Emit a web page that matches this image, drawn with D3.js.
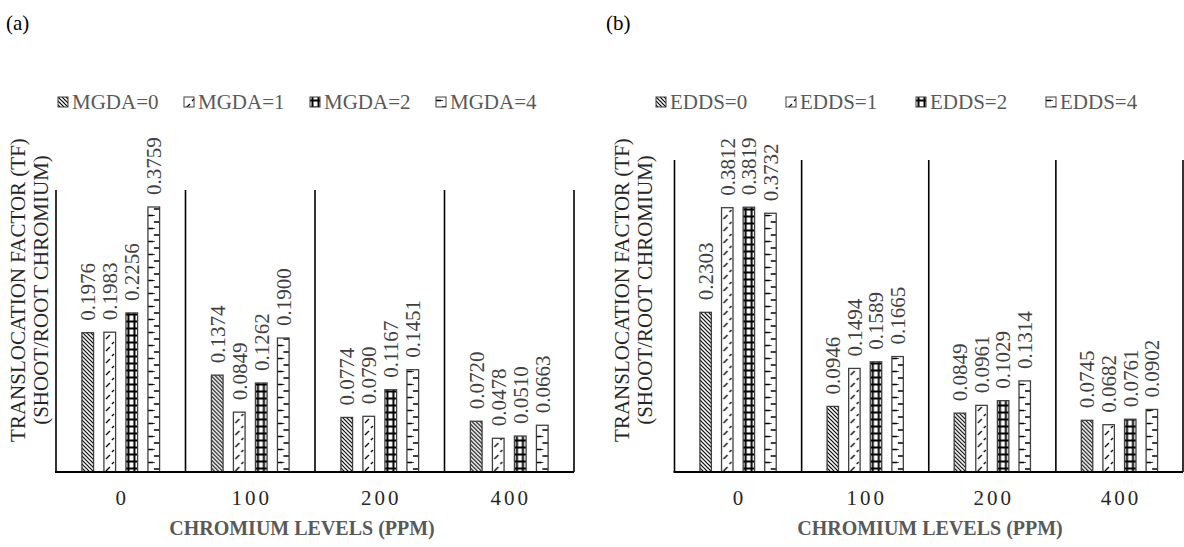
<!DOCTYPE html>
<html>
<head>
<meta charset="utf-8">
<script src="https://cdn.jsdelivr.net/npm/d3@7"></script>
</head>
<body style="margin:0;background:#fff">
<svg id="chart" width="1184" height="547"></svg>
<script>
// chromium levels on the x axis
const categories = ["0", "100", "200", "400"];

// panel (a) series
const mgdaSeries = ["MGDA=0", "MGDA=1", "MGDA=2", "MGDA=4"];
const mgda0 = [0.1976, 0.1374, 0.0774, 0.0720];
const mgda1 = [0.1983, 0.0849, 0.0790, 0.0478];
const mgda2 = [0.2256, 0.1262, 0.1167, 0.0510];
const mgda4 = [0.3759, 0.1900, 0.1451, 0.0663];

// panel (b) series
const eddsSeries = ["EDDS=0", "EDDS=1", "EDDS=2", "EDDS=4"];
const edds0 = [0.2303, 0.0946, 0.0849, 0.0745];
const edds1 = [0.3812, 0.1494, 0.0961, 0.0682];
const edds2 = [0.3819, 0.1589, 0.1029, 0.0761];
const edds4 = [0.3732, 0.1665, 0.1314, 0.0902];

const yTitle = ["TRANSLOCATION FACTOR (TF)", "(SHOOT/ROOT CHROMIUM)"];
const xTitle = "CHROMIUM LEVELS (PPM)";

const svg = d3.select("#chart")
  .style("font-family", '"Liberation Serif", "Times New Roman"');
const defs = svg.append("defs");

// fill patterns, one per series (userSpaceOnUse, bars are drawn at local x=0)
function makePattern(id, w, h, draw) {
  const p = defs.append("pattern")
    .attr("id", id)
    .attr("patternUnits", "userSpaceOnUse")
    .attr("width", w).attr("height", h);
  p.append("rect").attr("width", w).attr("height", h).attr("fill", "#fff");
  draw(p);
}
makePattern("pat0", 4, 4, p => {
  p.append("path").attr("d", "M-1,-1L5,5M-1,3L1,5M3,-1L5,1")
    .attr("stroke", "#000").attr("stroke-width", 1.2);
});
makePattern("pat1", 12, 12, p => {
  p.append("path").attr("d", "M2,11L6,7M8,4L10,2")
    .attr("stroke", "#000").attr("stroke-width", 1.3);
});
makePattern("pat2", 12, 7, p => {
  p.append("path").attr("d", "M2.5,0V7M8.5,0V7M0,3.5H12")
    .attr("stroke", "#000").attr("stroke-width", 2);
});
makePattern("pat3", 12, 13, p => {
  p.append("path").attr("d", "M0,3.5H5M6,10H12M6,3v1")
    .attr("stroke", "#000").attr("stroke-width", 1.5);
});
const patterns = ["url(#pat0)", "url(#pat1)", "url(#pat2)", "url(#pat3)"];

function drawPanel(cfg) {
  const g = svg.append("g");

  const x0 = d3.scaleBand().domain(categories).range([cfg.left, cfg.right]);
  const cw = x0.bandwidth();
  const x1 = d3.scaleBand().domain(cfg.series)
    .range([cw * 0.2, cw * 0.8]).paddingInner(0.47).paddingOuter(0);
  const y = d3.scaleLinear().domain([0, cfg.yMax]).range([cfg.bottom, cfg.top]);

  // divider lines between categories
  const edges = categories.map(c => x0(c)).concat([cfg.right]);
  g.selectAll(".div").data(edges).join("line")
    .attr("x1", d => d).attr("x2", d => d)
    .attr("y1", y(0)).attr("y2", y(cfg.yMax))
    .attr("stroke", "#000").attr("stroke-width", 1.6);

  // bars
  const groups = g.selectAll(".cat").data(categories).join("g")
    .attr("transform", c => `translate(${x0(c)},0)`);

  cfg.values.forEach((vals, si) => {
    groups.append("g")
      .attr("transform", (c, ci) => `translate(${x1(cfg.series[si])},${y(0)})`)
      .each(function (c, ci) {
        const v = vals[ci];
        const bar = d3.select(this);
        bar.append("rect")
          .attr("x", 0).attr("y", y(v) - y(0))
          .attr("width", x1.bandwidth()).attr("height", y(0) - y(v))
          .attr("fill", patterns[si])
          .attr("stroke", "#404040").attr("stroke-width", 1.3);
        bar.append("text")
          .attr("transform", `translate(${x1.bandwidth() / 2},${y(v) - y(0) - 12}) rotate(-90)`)
          .attr("dy", "0.35em")
          .attr("font-size", 21)
          .attr("fill", "#404040")
          .text(v.toFixed(4));
      });
  });

  // baseline
  g.append("line")
    .attr("x1", cfg.left - 1).attr("x2", cfg.right)
    .attr("y1", y(0)).attr("y2", y(0))
    .attr("stroke", "#000").attr("stroke-width", 2.2);

  // category tick labels
  g.selectAll(".tick").data(categories).join("text")
    .attr("x", c => x0(c) + cw / 2 + 1.5)
    .attr("y", 505)
    .attr("text-anchor", "middle")
    .attr("font-size", 21)
    .attr("letter-spacing", 3)
    .attr("fill", "#262626")
    .text(d => d);

  // axis titles
  g.append("text")
    .attr("x", cfg.xTitleX).attr("y", 535)
    .attr("text-anchor", "middle")
    .attr("font-size", 20).attr("font-weight", "bold")
    .attr("fill", "#595959")
    .text(xTitle);

  yTitle.forEach((t, i) => {
    g.append("text")
      .attr("transform", `translate(${cfg.yTitleX + i * 23},290) rotate(-90)`)
      .attr("text-anchor", "middle")
      .attr("dy", "0.35em")
      .attr("font-size", 21)
      .attr("fill", "#262626")
      .text(t);
  });

  // legend
  const leg = g.selectAll(".leg").data(cfg.series).join("g")
    .attr("transform", (d, i) => `translate(${cfg.legendX + i * cfg.legendStep},97)`);
  leg.append("rect")
    .attr("width", 10).attr("height", 10)
    .attr("fill", (d, i) => patterns[i])
    .attr("stroke", "#404040").attr("stroke-width", 1);
  leg.append("text")
    .attr("x", 14).attr("y", 12)
    .attr("font-size", 21)
    .attr("fill", "#595959")
    .text(d => d);

  g.append("text")
    .attr("x", cfg.tagX).attr("y", 30)
    .attr("font-size", 21).attr("fill", "#000")
    .text(cfg.tag);
}

drawPanel({
  tag: "(a)", tagX: 6,
  series: mgdaSeries, values: [mgda0, mgda1, mgda2, mgda4],
  left: 56, right: 574, top: 190, bottom: 472, yMax: 0.4,
  yTitleX: 18, xTitleX: 302, legendX: 58, legendStep: 126
});

drawPanel({
  tag: "(b)", tagX: 606,
  series: eddsSeries, values: [edds0, edds1, edds2, edds4],
  left: 674.5, right: 1183, top: 160, bottom: 472, yMax: 0.45,
  yTitleX: 622, xTitleX: 930, legendX: 656, legendStep: 130
});
</script>
</body>
</html>
